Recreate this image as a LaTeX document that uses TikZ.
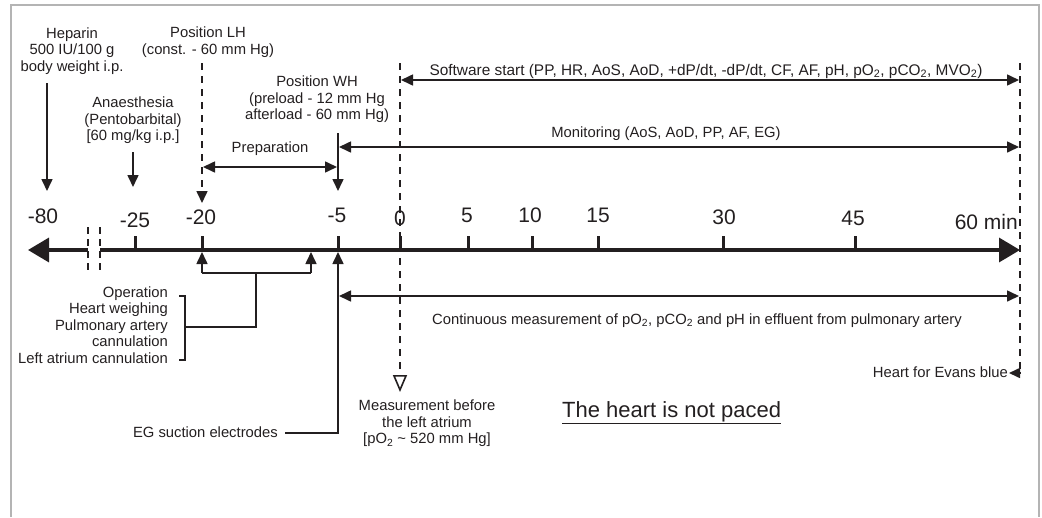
\documentclass[tikz,border=0pt]{standalone}
\usepackage{fontspec}
\setmainfont{Liberation Sans}
\usetikzlibrary{arrows.meta,positioning,calc}
\definecolor{ink}{HTML}{231F20}
\definecolor{edge}{HTML}{B4B4B4}
\tikzset{
  lbl/.style={inner sep=0pt,align=center,font=\fontsize{14.8}{16.5}\selectfont,text=ink},
  ticklbl/.style={inner sep=0pt,anchor=base,font=\fontsize{21}{24}\selectfont,text=ink},
  timeline/.style={-{Triangle[length=21pt,width=24pt]},line width=3.5pt,draw=ink},
  tickmark/.style={line width=3pt,draw=ink},
  flow/.style={-{Triangle[length=12pt,width=11pt]},line width=1.6pt,draw=ink},
  twoflow/.style={{Triangle[length=12pt,width=11pt]}-{Triangle[length=12pt,width=11pt]},line width=1.6pt,draw=ink},
  guide/.style={line width=1.6pt,draw=ink,dash pattern=on 7pt off 6pt},
  bracket/.style={line width=1.6pt,draw=ink},
  framebox/.style={line width=1.5pt,draw=edge}
}

\begin{document}
\begin{tikzpicture}[x=1pt,y=-1pt]
    \useasboundingbox (0,0) rectangle (1042,517);
    \draw[framebox] (11,517) -- (11,5) -- (1039,5) -- (1039,517);

    % time axis
    \coordinate (axL) at (28,250);
    \coordinate (brkA) at (88,250);
    \coordinate (brkB) at (100,250);
    \coordinate (axR) at (1020,250);
    \draw[timeline] (brkA) -- (axL);
    \draw[timeline] (brkB) -- (axR);
    \draw[guide,line width=1.3pt,dash pattern=on 7pt off 5pt] (88,227) -- (88,271);
    \draw[guide,line width=1.3pt,dash pattern=on 7pt off 5pt] (100,227) -- (100,271);

    \coordinate (tm25) at (135,250);
    \coordinate (tm20) at (202,250);
    \coordinate (tm5) at (338,250);
    \coordinate (t0) at (400,250);
    \coordinate (t5) at (468,250);
    \coordinate (t10) at (532,250);
    \coordinate (t15) at (598,250);
    \coordinate (t30) at (723,250);
    \coordinate (t45) at (855,250);
    \draw[tickmark] (tm25) -- ++(0,-14);
    \draw[tickmark] (tm20) -- ++(0,-14);
    \draw[tickmark] (tm5) -- ++(0,-14);
    \draw[tickmark] (t0) -- ++(0,-14);
    \draw[tickmark] (t5) -- ++(0,-14);
    \draw[tickmark] (t10) -- ++(0,-14);
    \draw[tickmark] (t15) -- ++(0,-14);
    \draw[tickmark] (t30) -- ++(0,-14);
    \draw[tickmark] (t45) -- ++(0,-14);

    \node[ticklbl] (lm80) at (43,223) {-80};
    \node[ticklbl] (lm25) at (135,227) {-25};
    \node[ticklbl] (lm20) at (201,224) {-20};
    \node[ticklbl] (lm5) at (337,222) {-5};
    \node[ticklbl] (l0) at (400,225) {0};
    \node[ticklbl] (l5) at (467,222) {5};
    \node[ticklbl] (l10) at (530,222) {10};
    \node[ticklbl] (l15) at (598,222) {15};
    \node[ticklbl] (l30) at (724,224) {30};
    \node[ticklbl] (l45) at (853,225) {45};
    \node[ticklbl,anchor=base east] (l60) at (1018,229) {60 min};

    % events above the axis
    \node[lbl,anchor=north] (heparin) at (72,27.5) {Heparin\\500 IU/100 g\\body weight i.p.};
    \node[lbl,anchor=north] (anaes) at (133,97) {Anaesthesia\\(Pentobarbital)\\{[60 mg/kg i.p.]}};
    \node[lbl,anchor=north] (poslh) at (208,27) {Position LH\\(const. - 60 mm Hg)};
    \node[lbl,anchor=north] (poswh) at (317,76) {Position WH\\(preload - 12 mm Hg\\afterload - 60 mm Hg)};
    \coordinate (hepA) at (47,83);
    \coordinate (hepB) at (47,191);
    \coordinate (anA) at (133,152);
    \coordinate (anB) at (133,187);
    \coordinate (lhA) at (202,63);
    \coordinate (lhB) at (202,203);
    \coordinate (whA) at (338,133);
    \coordinate (whB) at (338,191);
    \draw[flow] (hepA) -- (hepB);
    \draw[flow] (anA) -- (anB);
    \draw[guide,-{Triangle[length=12pt,width=11pt]}] (lhA) -- (lhB);
    \draw[flow] (whA) -- (whB);

    \coordinate (prepA) at (203,167);
    \coordinate (prepB) at (337,167);
    \draw[twoflow] (prepA) -- (prepB) node[lbl,midway,anchor=base,yshift=15pt] (prep) {Preparation};

    \coordinate (zeroA) at (400,63);
    \coordinate (zeroB) at (400,392);
    \draw[guide,-{Triangle[open,length=17pt,width=14pt,fill=white]}] (zeroA) -- (zeroB);

    \coordinate (endA) at (1020,63);
    \coordinate (endB) at (1020,373);
    \coordinate (evtip) at (1009,373);
    \draw[guide] (endA) -- (endB);
    \draw[-{Triangle[length=11pt,width=10pt]},line width=1.6pt,draw=ink] (endB) -- (evtip);
    \node[lbl,anchor=base east] (evans) at (1008,377) {Heart for Evans blue};

    \coordinate (swA) at (401,80);
    \coordinate (swB) at (1019,80);
    \draw[twoflow] (swA) -- (swB);
    \node[lbl,anchor=base,font=\fontsize{15.4}{16.5}\selectfont] (swstart) at (706,75) {Software start (PP, HR, AoS, AoD, +dP/dt, -dP/dt, CF, AF, pH, pO\textsubscript{2}, pCO\textsubscript{2}, MVO\textsubscript{2})};

    \coordinate (moA) at (339,147);
    \coordinate (moB) at (1019,147);
    \draw[twoflow] (moA) -- (moB);
    \node[lbl,anchor=base] (monit) at (666,137) {Monitoring (AoS, AoD, PP, AF, EG)};

    % events below the axis
    \coordinate (opA) at (202,273);
    \coordinate (opB) at (311,273);
    \coordinate (opAtip) at (202,252);
    \coordinate (opBtip) at (311,252);
    \coordinate (opmid) at (256,273);
    \coordinate (opleg) at (256,327);
    \coordinate (brmid) at (185,327);
    \draw[bracket] (opA) -- (opB);
    \draw[flow] (opA) -- (opAtip);
    \draw[flow] (opB) -- (opBtip);
    \draw[bracket] (opmid) -- (opleg) -- (brmid);
    \node[lbl,anchor=north east,align=right] (ops) at (168,286.5) {Operation\\Heart weighing\\Pulmonary artery\\cannulation\\Left atrium cannulation};
    \draw[bracket] (179,296) -- (185,296) -- (185,360) -- (179,360);

    \node[lbl,anchor=base east] (egel) at (278,437) {EG suction electrodes};
    \coordinate (egA) at (285,433);
    \coordinate (egbend) at (338,433);
    \coordinate (egtip) at (338,252);
    \draw[flow] (egA) -- (egbend) -- (egtip);

    \coordinate (coA) at (339,296);
    \coordinate (coB) at (1019,296);
    \draw[twoflow] (coA) -- (coB);
    \node[lbl,anchor=base] (contin) at (697,324) {Continuous measurement of pO\textsubscript{2}, pCO\textsubscript{2} and pH in effluent from pulmonary artery};

    \node[lbl,anchor=north] (measure) at (427,400) {Measurement before\\the left atrium\\{[pO\textsubscript{2} \textasciitilde{} 520 mm Hg]}};
    \node[lbl,anchor=base west,font=\fontsize{22}{24}\selectfont] (paced) at (562,417) {\underline{The heart is not paced}};
\end{tikzpicture}
\end{document}
